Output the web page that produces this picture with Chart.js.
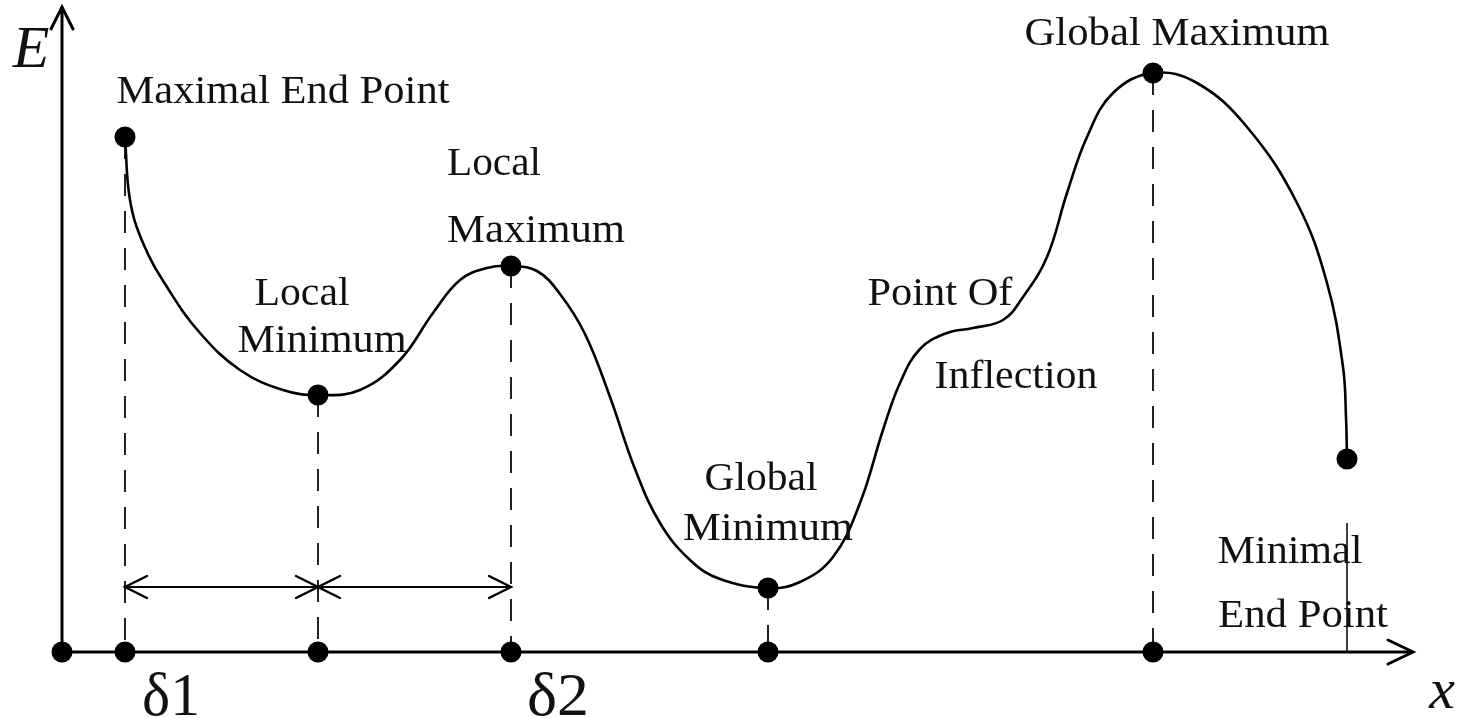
<!DOCTYPE html>
<html>
<head>
<meta charset="utf-8">
<script src="https://cdn.jsdelivr.net/npm/chart.js@4/dist/chart.umd.min.js"></script>
<style>
  html, body { margin: 0; padding: 0; background: #fff; }
  canvas { display: block; }
</style>
</head>
<body>
<canvas id="c" width="1462" height="718"></canvas>
<script>
const curveX = [125, 130, 143, 167, 200, 240, 283, 318, 360, 400, 433, 460, 487, 511, 537, 560, 585, 610, 635, 660, 690, 720, 768, 800, 833, 860, 883, 900, 920, 947, 973, 1003, 1023, 1047, 1067, 1087, 1113, 1153, 1197, 1247, 1297, 1327, 1343, 1346, 1347];
const curveE = [515, 452, 409, 365, 319, 282, 262, 257, 262, 292, 339, 372, 384, 386, 381, 358, 318, 255, 183, 129, 92, 73, 64, 70, 95, 149, 222, 269, 303, 319, 324, 332, 355, 395, 459, 515, 559, 579, 569, 525, 449, 369, 285, 235, 193];

// marked points on the curve
const keyX = [125, 318, 511, 768, 1153, 1347];
const keyE = [515, 257, 386, 64, 579, 193];

// dots on the x axis (origin + feet of the dashed lines)
const axisDotX = [62, 125, 318, 511, 768, 1153];

// dashed drop lines
const dropX = [125, 318, 511, 768, 1153];
const dropE = [515, 257, 386, 64, 579];

// the two double-arrow spans (δ1, δ2) and their height
const spanFrom = [125, 318];
const spanTo = [318, 511];
const spanE = 65;

// axis extents
const axisX0 = 62, axisXEnd = 1413, axisEEnd = 645;

// thin marker under the minimal end point
const endMarkX = 1347, endMarkTop = 129;

const labelText = ['Maximal End Point', 'Local', 'Maximum', 'Local', 'Minimum', 'Global', 'Minimum', 'Point Of', 'Inflection', 'Global Maximum', 'Minimal', 'End Point', 'δ1', 'δ2'];
const labelX = [283, 494, 536, 302, 322, 761, 768, 940, 1016, 1177, 1290, 1303, 171, 558];
const labelE = [549, 477, 410, 347, 300, 162, 112, 347, 264, 607, 89, 25, -63, -63];

const pts = (xs, es) => xs.map((x, i) => ({ x: x, y: es[i] }));

const datasets = [];
datasets.push({
  label: 'dots', type: 'scatter', order: 0,
  data: pts(keyX, keyE).concat(axisDotX.map(x => ({ x: x, y: 0 }))),
  pointRadius: 10.5, pointBackgroundColor: '#000', pointBorderWidth: 0
});
datasets.push({
  label: 'E(x)', type: 'line', order: 1,
  data: pts(curveX, curveE),
  borderColor: '#000', borderWidth: 2.6, pointRadius: 0,
  tension: 0.4, fill: false
});
dropX.forEach((x, i) => datasets.push({
  label: 'drop' + i, type: 'line', order: 2,
  data: [{ x: x, y: dropE[i] }, { x: x, y: 0 }],
  borderColor: '#222', borderWidth: 2, borderDash: [22, 15], pointRadius: 0
}));
spanFrom.forEach((x, i) => datasets.push({
  label: 'span' + i, type: 'line', order: 2,
  data: [{ x: x, y: spanE }, { x: spanTo[i], y: spanE }],
  borderColor: '#000', borderWidth: 2, pointRadius: 0
}));
datasets.push({
  label: 'xaxis', type: 'line', order: 1,
  data: [{ x: axisX0, y: 0 }, { x: axisXEnd, y: 0 }],
  borderColor: '#000', borderWidth: 3, pointRadius: 0
});
datasets.push({
  label: 'yaxis', type: 'line', order: 1,
  data: [{ x: axisX0, y: 0 }, { x: axisX0, y: axisEEnd }],
  borderColor: '#000', borderWidth: 3, pointRadius: 0
});
datasets.push({
  label: 'endmark', type: 'line', order: 2,
  data: [{ x: endMarkX, y: 0 }, { x: endMarkX, y: endMarkTop }],
  borderColor: '#000', borderWidth: 1.5, pointRadius: 0
});

function arrowHead(ctx, tx, ty, dx, dy, len, half, lw) {
  // open V head, tip at (tx,ty), pointing along (dx,dy)
  const n = Math.hypot(dx, dy), ux = dx / n, uy = dy / n;
  const bx = tx - ux * len, by = ty - uy * len;
  ctx.save();
  ctx.strokeStyle = '#000';
  ctx.lineWidth = lw;
  ctx.lineCap = 'round';
  ctx.lineJoin = 'miter';
  ctx.beginPath();
  ctx.moveTo(bx - uy * half, by + ux * half);
  ctx.lineTo(tx, ty);
  ctx.lineTo(bx + uy * half, by - ux * half);
  ctx.stroke();
  ctx.restore();
}

function fitText(ctx, text, cx, by, size, width, italic) {
  ctx.save();
  ctx.font = (italic ? 'italic ' : '') + size + 'px "Liberation Serif", "DejaVu Serif", serif';
  const w = ctx.measureText(text).width;
  ctx.translate(cx, by);
  if (width) ctx.scale(width / w, 1);
  ctx.textAlign = 'center';
  ctx.textBaseline = 'alphabetic';
  ctx.fillStyle = '#111';
  ctx.fillText(text, 0, 0);
  ctx.restore();
}

const labelWidth = [333, 94, 178, 95, 169, 113, 170, 145, 163, 305, 145, 170, 58, 62];

const decor = {
  id: 'decor',
  afterDatasetsDraw(chart) {
    const ctx = chart.ctx;
    const sx = chart.scales.x, sy = chart.scales.y;
    const px = v => sx.getPixelForValue(v), py = v => sy.getPixelForValue(v);

    // axis arrows
    arrowHead(ctx, px(axisX0), py(axisEEnd), 0, -1, 22, 11, 3);
    arrowHead(ctx, px(axisXEnd), py(0), 1, 0, 25, 12, 3);

    // span arrows, pointing outward to the dashed lines
    spanFrom.forEach((x, i) => {
      arrowHead(ctx, px(x), py(spanE), -1, 0, 22, 11, 2.4);
      arrowHead(ctx, px(spanTo[i]), py(spanE), 1, 0, 22, 11, 2.4);
    });

    // text labels
    labelText.forEach((t, i) => {
      const big = t.charAt(0) === 'δ';
      fitText(ctx, t, px(labelX[i]), py(labelE[i]), big ? 62 : 40, labelWidth[i], false);
    });
    fitText(ctx, 'E', px(31), py(585), 60, 0, true);
    fitText(ctx, 'x', px(1442), py(-56), 58, 0, true);
  }
};

new Chart(document.getElementById('c'), {
  data: { datasets: datasets },
  options: {
    responsive: false,
    devicePixelRatio: 1,
    animation: false,
    layout: { padding: 0, autoPadding: false },
    plugins: { legend: { display: false }, tooltip: { enabled: false } },
    scales: {
      x: { type: 'linear', min: 0, max: 1462, display: false },
      y: { type: 'linear', min: -66, max: 652, display: false }
    }
  },
  plugins: [decor]
});
</script>
</body>
</html>
